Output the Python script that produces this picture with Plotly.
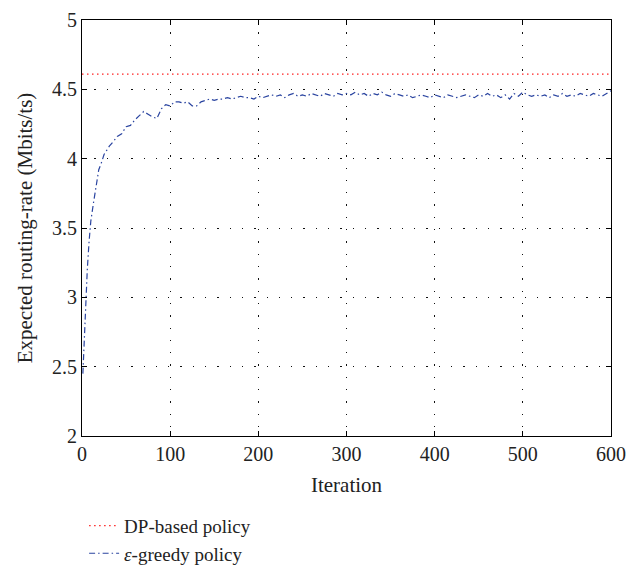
import plotly.graph_objects as go

iterations = [1, 2, 3, 4, 5, 6, 8, 10, 13, 16, 19, 22, 25, 28, 31, 35, 40, 45, 50, 55,
              60, 65, 70, 75, 80, 85, 90, 95, 100, 105, 110, 115, 120, 125, 130, 135,
              140, 145, 150, 155, 160, 165, 170, 175, 180, 185, 190, 195, 200,
              205, 210, 215, 220, 225, 230, 235, 240, 245, 250, 255, 260, 265, 270,
              275, 280, 285, 290, 295, 300, 305, 310, 315, 320, 325, 330, 335, 340,
              345, 350, 355, 360, 365, 370, 375, 380, 385, 390, 395, 400, 405, 410,
              415, 420, 425, 430, 435, 440, 445, 450, 455, 460, 465, 470, 475, 480,
              485, 490, 495, 500, 505, 510, 515, 520, 525, 530, 535, 540, 545, 550,
              555, 560, 565, 570, 575, 580, 585, 590, 595, 600]
greedy_rate = [2.45, 2.62, 2.82, 2.98, 3.10, 3.20, 3.40, 3.55, 3.68, 3.80, 3.92, 3.97,
               4.03, 4.06, 4.09, 4.12, 4.16, 4.18, 4.23, 4.24, 4.28, 4.31, 4.34, 4.32,
               4.30, 4.29, 4.36, 4.39, 4.38, 4.41, 4.41, 4.40, 4.41, 4.38, 4.38, 4.41,
               4.42, 4.43, 4.42, 4.43, 4.43, 4.44, 4.43, 4.44, 4.45, 4.44, 4.44, 4.43,
               4.45,
               4.44, 4.45, 4.46, 4.45, 4.46, 4.44, 4.46, 4.47, 4.45, 4.46, 4.45, 4.47,
               4.46, 4.45, 4.47, 4.46, 4.45, 4.47, 4.46, 4.47, 4.46, 4.48, 4.46, 4.47,
               4.45, 4.47, 4.46, 4.48, 4.46, 4.45, 4.47, 4.46, 4.45, 4.46, 4.44, 4.45,
               4.46, 4.45, 4.44, 4.46, 4.45, 4.44, 4.46, 4.45, 4.44, 4.45, 4.46, 4.45,
               4.44, 4.46, 4.45, 4.47, 4.45, 4.46, 4.44, 4.46, 4.43, 4.47, 4.45, 4.48,
               4.46, 4.45, 4.46, 4.45, 4.46, 4.44, 4.46, 4.45, 4.47, 4.45, 4.46, 4.45,
               4.47, 4.46, 4.45, 4.47, 4.46, 4.45, 4.47, 4.49]
dp_x = [0, 600]
dp_rate = [4.61, 4.61]

x_ticks = [0, 100, 200, 300, 400, 500, 600]
y_ticks = [2, 2.5, 3, 3.5, 4, 4.5, 5]
y_labels = ["2", "2.5", "3", "3.5", "4", "4.5", "5"]

font = "Liberation Serif, Times New Roman, serif"
text_color = "#222"

fig = go.Figure()
fig.add_trace(go.Scatter(x=dp_x, y=dp_rate, mode="lines", name="DP-based policy",
                         line=dict(color="#ff2020", width=1.2, dash="1.5px,3.5px")))
fig.add_trace(go.Scatter(x=iterations, y=greedy_rate, mode="lines",
                         name="<i>ε</i>-greedy policy",
                         line=dict(color="#2a44a0", width=1.2, dash="6px,3px,1.5px,3px")))

axis_common = dict(showline=True, linecolor="black", linewidth=1.2, mirror="ticks",
                   ticks="inside", ticklen=5, tickcolor="black", automargin=False,
                   ticklabeloverflow="allow",
                   showgrid=True, gridcolor="#111", griddash="1.3px,11px", gridwidth=1.3,
                   zeroline=False, tickfont=dict(family=font, size=20, color=text_color))

fig.update_xaxes(range=[0, 600], tickvals=x_ticks,
                 title=dict(text="Iteration", font=dict(family=font, size=21, color=text_color),
                            standoff=13),
                 **axis_common)
fig.update_yaxes(range=[2, 5], tickvals=y_ticks, ticktext=y_labels,
                 title=dict(text="Expected routing-rate (Mbits/ts)",
                            font=dict(family=font, size=21, color=text_color), standoff=13),
                 **axis_common)

fig.update_layout(
    width=640, height=572,
    margin=dict(l=74, r=37, t=12, b=144, autoexpand=False),
    plot_bgcolor="white", paper_bgcolor="white",
    showlegend=True,
    legend=dict(x=0.004, xanchor="left", y=-0.17, yanchor="top",
                font=dict(family=font, size=19, color=text_color),
                bgcolor="rgba(0,0,0,0)", tracegroupgap=0),
)

fig.write_html("out.html")
